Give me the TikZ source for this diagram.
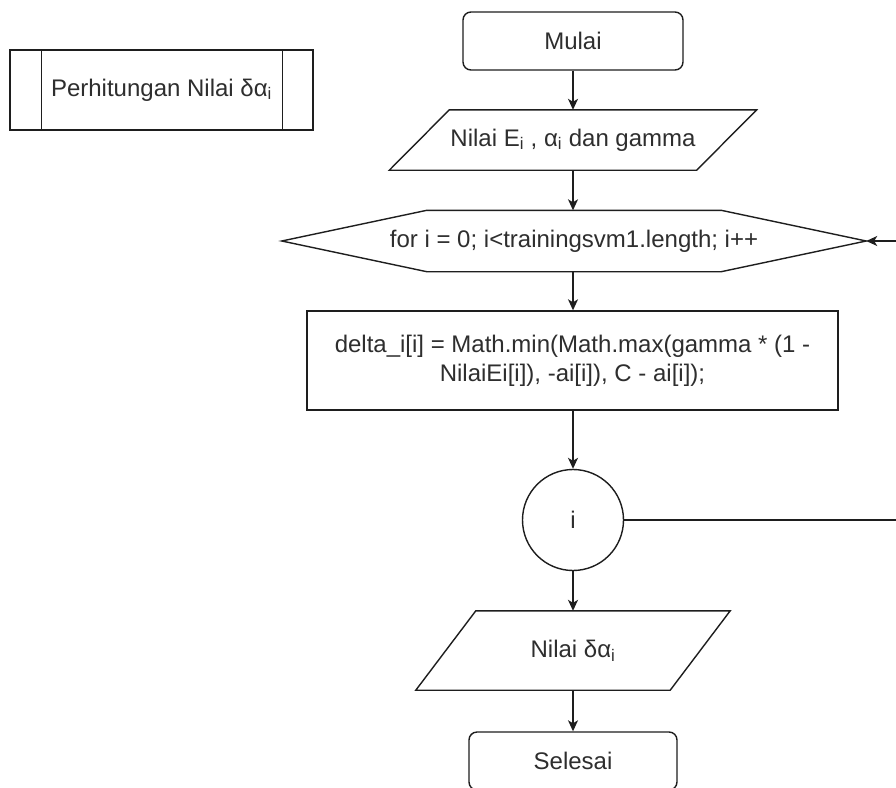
\documentclass[tikz,border=0pt]{standalone}
\usepackage{fontspec}
\setmainfont{Liberation Sans}
\usetikzlibrary{arrows.meta,calc}

\definecolor{inkline}{HTML}{1E1E1E}
\definecolor{inktext}{HTML}{2E2E2E}

\tikzset{
  base/.style={font=\fontsize{24}{29}\selectfont, text=inktext, inner sep=0pt, align=center},
  boxed/.style={base, draw=inkline, line width=1.4pt, fill=white},
  terminal/.style={boxed, rounded corners=8pt, minimum height=58pt},
  holder/.style={base, draw=none},
  outline/.style={draw=inkline, line width=1.4pt, line join=miter},
  flow/.style={draw=inkline, line width=1.4pt, -{Stealth[length=11pt,width=10pt,inset=3pt]}},
  joint/.style={boxed, circle, minimum size=101pt}
}

\begin{document}
\begin{tikzpicture}[x=1pt,y=-1pt]
  % page frame
  \clip (0,0) rectangle (896,787);
  \fill[white] (0,0) rectangle (896,787);

  % predefined process (sub-routine) box
  \node[boxed, minimum width=303pt, minimum height=80pt] (sub) at (161.5,90)
    {Perhitungan Nilai δα\textsubscript{i}};
  \draw[outline] ([xshift=32pt]sub.north west) -- ([xshift=32pt]sub.south west);
  \draw[outline] ([xshift=-31pt]sub.north east) -- ([xshift=-31pt]sub.south east);

  % start
  \node[terminal, minimum width=220pt] (start) at (573,41) {Mulai};

  % input parallelogram
  \node[holder, minimum width=367pt, minimum height=60pt] (inp) at (573,140)
    {Nilai E\textsubscript{i} , α\textsubscript{i} dan gamma};
  \draw[outline] ($(inp.north west)+(60,0)$) -- (inp.north east)
    -- ($(inp.south east)+(-60,0)$) -- (inp.south west) -- cycle;

  % loop header hexagon
  \node[holder, minimum width=584pt, minimum height=61pt] (hex) at (574,241)
    {for i = 0; i<trainingsvm1.length; i++};
  \draw[outline] (hex.west) -- ($(hex.north west)+(145,0)$)
    -- ($(hex.north east)+(-145,0)$) -- (hex.east)
    -- ($(hex.south east)+(-145,0)$) -- ($(hex.south west)+(145,0)$) -- cycle;

  % process
  \node[boxed, minimum width=531pt, minimum height=99pt] (proc) at (572.5,360.5)
    {delta\_i[i] = Math.min(Math.max(gamma * (1 -\\NilaiEi[i]), -ai[i]), C - ai[i]);};

  % loop connector
  \node[joint] (loopc) at (573,520) {i};

  % output parallelogram
  \node[holder, minimum width=314pt, minimum height=79pt] (outp) at (573,650.5)
    {Nilai δα\textsubscript{i}};
  \draw[outline] ($(outp.north west)+(60,0)$) -- (outp.north east)
    -- ($(outp.south east)+(-60,0)$) -- (outp.south west) -- cycle;

  % end
  \node[terminal, minimum width=208pt] (stop) at (573,761) {Selesai};

  % connectors
  \draw[flow] (start.south) -- (inp.north -| start.south);
  \draw[flow] (inp.south -| start.south) -- (hex.north -| start.south);
  \draw[flow] (hex.south -| start.south) -- (proc.north -| start.south);
  \draw[flow] (proc.south -| start.south) -- (loopc.north);
  \draw[flow] (loopc.south) -- (outp.north);
  \draw[flow] (outp.south) -- (stop.north);

  \coordinate (loopturn) at (897,241);
  \draw[flow] (loopc.east) -| (loopturn) -- (hex.east);
\end{tikzpicture}
\end{document}
